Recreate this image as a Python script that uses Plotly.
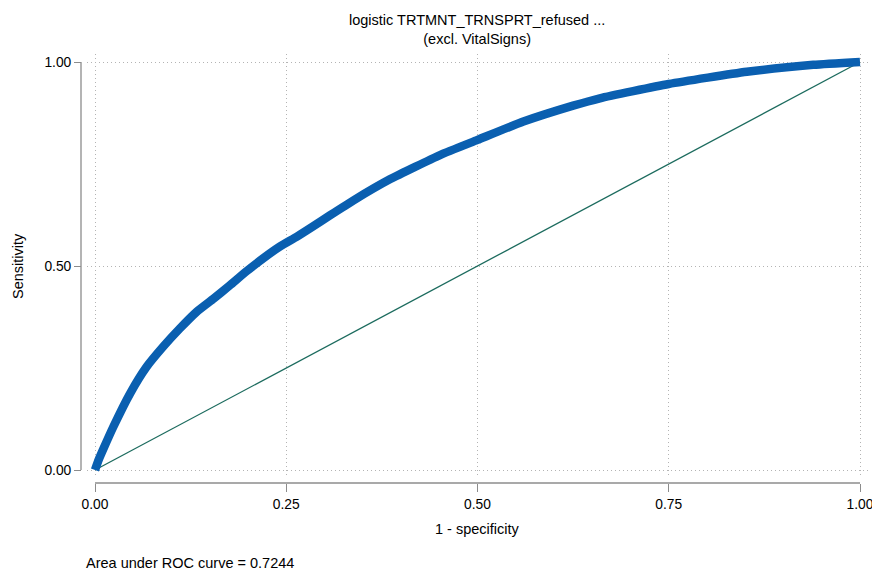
import plotly.graph_objects as go

# ROC curve values
fpr = [0, 0.005, 0.011, 0.024, 0.046, 0.0675, 0.089, 0.111, 0.133, 0.155, 0.176,
       0.198, 0.22, 0.242, 0.264, 0.285, 0.307, 0.338, 0.386, 0.451, 0.5,
       0.56, 0.625, 0.66, 0.75, 0.852, 0.939, 1.0]
tpr = [0, 0.026, 0.052, 0.106, 0.188, 0.253, 0.302, 0.347, 0.388, 0.420, 0.452,
       0.487, 0.519, 0.548, 0.572, 0.597, 0.624, 0.661, 0.713, 0.772, 0.809,
       0.854, 0.893, 0.911, 0.946, 0.976, 0.993, 1.0]
ref_x = [0, 1]
ref_y = [0, 1]

x_ticks = [0, 0.25, 0.5, 0.75, 1.0]
x_labels = ["0.00", "0.25", "0.50", "0.75", "1.00"]
y_ticks = [0, 0.5, 1.0]
y_labels = ["0.00", "0.50", "1.00"]

title_text = "logistic TRTMNT_TRNSPRT_refused ...<br>(excl. VitalSigns)"
x_title = "1 - specificity"
y_title = "Sensitivity"
auc_text = "Area under ROC curve = 0.7244"

FONT = "Liberation Sans, Arial, sans-serif"
FS = 14.5
TFS = 13.8
W, H = 872, 572
L, R, T, B = 81, 4, 54, 89
pw = W - L - R
ph = H - T - B
AXC = "#8c8c8c"


def px(xpix):
    return (xpix - L) / pw


def py(ypix):
    return (H - B - ypix) / ph


fig = go.Figure()
fig.add_trace(go.Scatter(x=ref_x, y=ref_y, mode="lines",
                         line=dict(color="#1c6b5e", width=1.3), hoverinfo="skip"))
fig.add_trace(go.Scatter(x=fpr, y=tpr, mode="lines",
                         line=dict(color="#0a5fb0", width=8.5, shape="spline", smoothing=0.5),
                         hoverinfo="skip"))

grid = dict(showgrid=True, gridcolor="#b4b4b4", griddash="1px,3px", gridwidth=1)
fig.update_layout(
    width=W, height=H, showlegend=False,
    margin=dict(l=L, r=R, t=T, b=B, autoexpand=False),
    plot_bgcolor="white", paper_bgcolor="white",
    font=dict(family=FONT, size=FS, color="black"),
    xaxis=dict(range=[-8 / 765, 1 + 8 / 765], domain=[px(87), 1.0],
               anchor="free", position=0, tickvals=x_ticks, ticktext=x_labels,
               ticks="outside", ticklen=8, tickcolor=AXC, tickwidth=1.3,
               ticklabeloverflow="allow", tickfont=dict(size=TFS),
               showline=False, zeroline=False, automargin=False, **grid),
    yaxis=dict(range=[-8 / 408, 1 + 8 / 408], domain=[py(478), 1.0],
               anchor="free", position=0, tickvals=y_ticks, ticktext=y_labels,
               ticks="outside", ticklen=7, tickcolor=AXC, tickwidth=1.3,
               ticklabeloverflow="allow", tickfont=dict(size=TFS),
               showline=False, zeroline=False, automargin=False, **grid),
)

# detached axis lines (Stata style)
fig.add_shape(type="line", xref="paper", yref="paper", x0=px(95), x1=px(860), y0=0, y1=0,
              line=dict(color=AXC, width=1.3))
fig.add_shape(type="line", xref="paper", yref="paper", x0=0, x1=0, y0=py(470), y1=py(62),
              line=dict(color=AXC, width=1.3))

fig.add_annotation(text=title_text, xref="paper", yref="paper",
                   x=px(477), y=py(29), showarrow=False,
                   xanchor="center", yanchor="middle", font=dict(size=14.5))
fig.add_annotation(text=x_title, xref="paper", yref="paper",
                   x=px(477), y=py(529), showarrow=False,
                   xanchor="center", yanchor="middle", font=dict(size=FS))
fig.add_annotation(text=y_title, xref="paper", yref="paper",
                   x=px(18), y=py(266), showarrow=False, textangle=-90,
                   xanchor="center", yanchor="middle", font=dict(size=FS))
fig.add_annotation(text=auc_text, xref="paper", yref="paper",
                   x=px(84), y=py(563), showarrow=False,
                   xanchor="left", yanchor="middle", font=dict(size=FS))

fig.write_html("out.html", config={"displayModeBar": False},
               post_script="document.body.style.margin='0';document.body.style.padding='0';")
